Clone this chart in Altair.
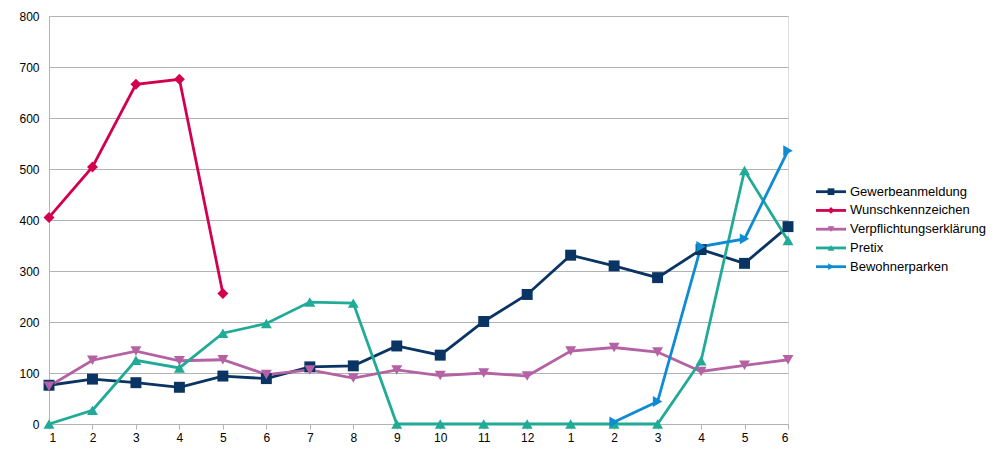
import altair as alt
import pandas as pd

x_labels = ["1", "2", "3", "4", "5", "6", "7", "8", "9", "10", "11", "12",
            "1", "2", "3", "4", "5", "6"]

series_names = ["Gewerbeanmeldung", "Wunschkennzeichen", "Verpflichtungserklärung",
                "Pretix", "Bewohnerparken"]
series_colors = ["#0a3463", "#d3004f", "#b462a3", "#21ab97", "#0e8bd3"]
series_shapes = ["square", "diamond", "triangle-down", "triangle-up", "triangle-right"]

gewerbe = [76, 88, 81, 72, 94, 89, 112, 114, 153, 135, 201, 254, 331, 310, 287, 342, 315, 387]
wunsch = [405, 504, 666, 676, 256]
verpfl = [74, 125, 143, 124, 126, 97, 106, 90, 106, 95, 100, 94, 143, 150, 141, 103, 115, 126]
pretix = [0, 27, 125, 110, 178, 197, 239, 237, 0, 0, 0, 0, 0, 0, 0, 124, 497, 360]
bewohner = [4, 44, 348, 363, 536]

rows = []
for i, v in enumerate(gewerbe):
    rows.append({"series": series_names[0], "idx": i, "value": v})
for i, v in enumerate(wunsch):
    rows.append({"series": series_names[1], "idx": i, "value": v})
for i, v in enumerate(verpfl):
    rows.append({"series": series_names[2], "idx": i, "value": v})
for i, v in enumerate(pretix):
    rows.append({"series": series_names[3], "idx": i, "value": v})
for i, v in enumerate(bewohner):
    rows.append({"series": series_names[4], "idx": 13 + i, "value": v})
df = pd.DataFrame(rows)

FONT = "Liberation Sans"
GRID = "#b3b3b3"

label_expr = "[" + ",".join("'" + s + "'" for s in x_labels) + "][datum.value]"

color_scale = alt.Scale(domain=series_names, range=series_colors)
shape_scale = alt.Scale(domain=series_names, range=series_shapes)

x_enc = alt.X("idx:Q", scale=alt.Scale(domain=[0, len(x_labels) - 1], nice=False, zero=False),
              axis=alt.Axis(values=list(range(len(x_labels))), labelExpr=label_expr, grid=False,
                            ticks=True, tickSize=5, tickColor=GRID, domainColor=GRID,
                            labelFontSize=12, labelColor="#000000", labelFont=FONT,
                            labelPadding=3, title=None))
y_enc = alt.Y("value:Q", scale=alt.Scale(domain=[0, 800], nice=False),
              axis=alt.Axis(values=list(range(0, 801, 100)), grid=True, gridColor=GRID,
                            ticks=False, domainColor=GRID, labelFontSize=12,
                            labelColor="#000000", labelFont=FONT, labelPadding=10, title=None))

base = alt.Chart(df)
lines = base.mark_line(strokeWidth=2.8).encode(
    x=x_enc, y=y_enc,
    color=alt.Color("series:N", scale=color_scale, legend=None),
    detail="series:N",
)
points = base.mark_point(filled=True, size=120, opacity=1).encode(
    x=x_enc, y=y_enc,
    color=alt.Color("series:N", scale=color_scale, legend=None),
    shape=alt.Shape("series:N", scale=shape_scale, legend=None),
)
main = alt.layer(lines, points).properties(width=739, height=408)

leg_df = pd.DataFrame({"series": series_names})
leg_y = alt.Y("series:N", sort=series_names,
              scale=alt.Scale(type="point", domain=series_names, range=[175.7, 250.7], padding=0),
              axis=None)
leg_base = alt.Chart(leg_df)
leg_rule = leg_base.mark_rule(strokeWidth=2.8).encode(
    x=alt.value(0), x2=alt.value(30), y=leg_y,
    color=alt.Color("series:N", scale=color_scale, legend=None),
)
leg_pt = leg_base.mark_point(filled=True, size=45, opacity=1).encode(
    x=alt.value(15), y=leg_y,
    color=alt.Color("series:N", scale=color_scale, legend=None),
    shape=alt.Shape("series:N", scale=shape_scale, legend=None),
)
leg_text = leg_base.mark_text(align="left", baseline="middle", fontSize=13, font=FONT,
                              color="#000000").encode(
    x=alt.value(34), y=leg_y, text="series:N",
)
legend = alt.layer(leg_rule, leg_pt, leg_text).properties(
    width=160, height=408, view=alt.ViewConfig(stroke=None))

chart = alt.hconcat(main, legend, spacing=28, bounds="flush").properties(
    padding={"left": 10, "top": 1, "right": 0, "bottom": 0}
).configure_view(stroke=GRID).configure(background="#ffffff")

chart.save("out.html", embed_options={"renderer": "svg", "actions": False})
